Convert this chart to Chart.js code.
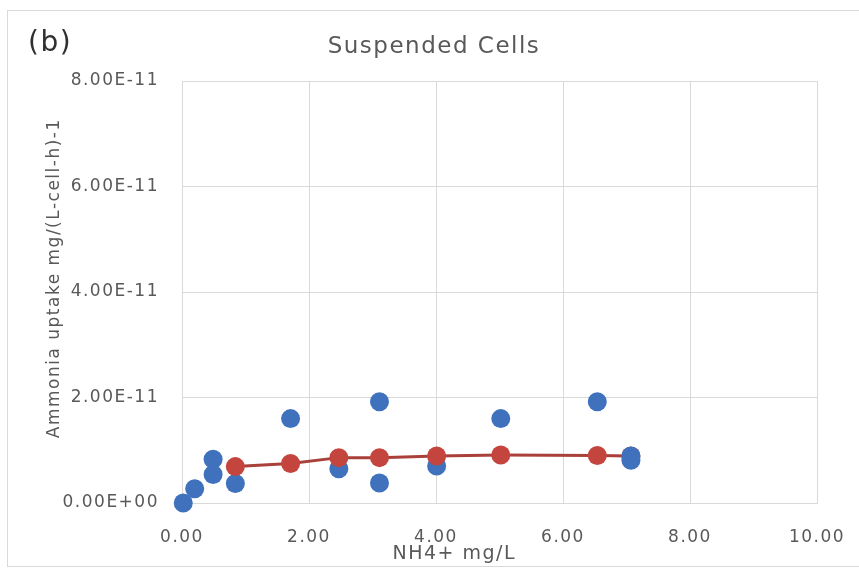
<!DOCTYPE html>
<html>
<head>
<meta charset="utf-8">
<script src="https://cdn.jsdelivr.net/npm/chart.js@4/dist/chart.umd.min.js"></script>
<style>
  html, body { margin: 0; padding: 0; background: #ffffff; }
  canvas { display: block; }
</style>
</head>
<body>
<canvas id="chart" width="859" height="578"></canvas>
<script>
// Measured uptake rates (scatter points)
const uptakeX = [0.02, 0.20, 0.49, 0.49, 0.84, 1.71, 2.47, 3.11, 3.11, 4.01, 5.02, 6.54];
const uptakeY = [0, 2.7e-12, 8.3e-12, 5.4e-12, 3.7e-12, 1.60e-11, 6.5e-12, 1.92e-11, 3.8e-12, 7.0e-12, 1.60e-11, 1.92e-11];

// Last measured pair at the highest concentration
const uptakeFinalX = [7.07, 7.07];
const uptakeFinalY = [8.9e-12, 8.1e-12];

// Fitted uptake curve (line with markers)
const fitX = [0.84, 1.71, 2.47, 3.11, 4.01, 5.02, 6.54, 7.07];
const fitY = [6.9e-12, 7.5e-12, 8.6e-12, 8.6e-12, 8.9e-12, 9.1e-12, 9.0e-12, 8.9e-12];

// Axis ranges and ticks
const xTickValues = [0, 2, 4, 6, 8, 10];
const yTickValues = [0, 2e-11, 4e-11, 6e-11, 8e-11];

const panelLabel = '(b)';
const chartTitle = 'Suspended Cells';
const xAxisTitle = 'NH4+ mg/L';
const yAxisTitle = 'Ammonia uptake mg/(L-cell-h)-1';

const FONT = '"DejaVu Sans", sans-serif';
const TEXT = '#595959';
const GRID = '#D9D9D9';
const BLUE = '#3F71BD';
const RED = '#C4443E';
const RED_LINE = '#A9403A';

const toPoints = (xs, ys) => xs.map((x, i) => ({ x, y: ys[i] }));

// Excel-style scientific notation: 2.00E-11, 0.00E+00
function sci(v) {
  const [m, e] = Number(v).toExponential(2).split('e');
  const sign = e[0];
  const digits = e.slice(1).padStart(2, '0');
  return m + 'E' + sign + digits;
}

const spacing = {
  id: 'spacing',
  beforeUpdate(c) { c.ctx.letterSpacing = '1.5px'; },
  beforeLayout(c) { c.ctx.letterSpacing = '1.5px'; },
  beforeDraw(c) { c.ctx.letterSpacing = '1.5px'; }
};

const decor = {
  id: 'decor',
  beforeDraw(c) {
    const g = c.ctx;
    g.save();
    g.fillStyle = '#ffffff';
    g.fillRect(0, 0, c.width, c.height);
    g.strokeStyle = GRID;
    g.lineWidth = 1;
    g.strokeRect(7.5, 10.5, c.width, 556);
    g.restore();
  },
  afterDraw(c) {
    const g = c.ctx;
    g.save();
    g.font = '28px ' + FONT;
    g.fillStyle = '#303030';
    g.textBaseline = 'middle';
    g.textAlign = 'left';
    g.fillText(panelLabel, 28, 44);
    g.restore();
  }
};

// Outer margins: plot spans x 182..817, title centred near x 434
const PAD_LEFT = 51;
const PAD_RIGHT = 42;

// Axis titles sit off the axis centre: blank padding moves the visible words
const xTitleText = xAxisTitle + ' '.repeat(12);
const yTitleText = ' '.repeat(4) + yAxisTitle;

const config = {
  type: 'scatter',
  data: {
    datasets: [
      {
        label: 'uptakeFinal',
        data: toPoints(uptakeFinalX, uptakeFinalY),
        backgroundColor: BLUE,
        borderColor: BLUE,
        pointRadius: 9.5,
        pointHoverRadius: 9.5,
        borderWidth: 0,
        order: 1,
        clip: false
      },
      {
        label: 'fit',
        data: toPoints(fitX, fitY),
        showLine: true,
        borderColor: RED_LINE,
        borderWidth: 3,
        backgroundColor: RED,
        pointBackgroundColor: RED,
        pointBorderColor: RED,
        pointBorderWidth: 0,
        pointRadius: 9.5,
        pointHoverRadius: 9.5,
        tension: 0,
        order: 2,
        clip: false
      },
      {
        label: 'uptake',
        data: toPoints(uptakeX, uptakeY),
        backgroundColor: BLUE,
        borderColor: BLUE,
        pointRadius: 9.5,
        pointHoverRadius: 9.5,
        borderWidth: 0,
        order: 3,
        clip: false
      }
    ]
  },
  options: {
    responsive: false,
    animation: false,
    events: [],
    layout: { padding: { left: PAD_LEFT, right: PAD_RIGHT, top: 0, bottom: 0 } },
    plugins: {
      legend: { display: false },
      tooltip: { enabled: false },
      title: {
        display: true,
        text: chartTitle,
        color: TEXT,
        font: { family: FONT, size: 23, weight: 'normal' },
        padding: { top: 33, bottom: 20.4 }
      }
    },
    scales: {
      x: {
        type: 'linear',
        min: xTickValues[0],
        max: xTickValues[xTickValues.length - 1],
        afterBuildTicks(s) { s.ticks = xTickValues.map(v => ({ value: v })); },
        afterFit(s) {
          s.height = 75;
          s.paddingLeft = 0;
          s.paddingRight = 0;
        },
        ticks: {
          color: TEXT,
          font: { family: FONT, size: 17 },
          padding: 24,
          maxRotation: 0,
          callback: v => Number(v).toFixed(2)
        },
        grid: { color: GRID, lineWidth: 1, drawTicks: false },
        border: { color: GRID, width: 1 },
        title: {
          display: true,
          text: xTitleText,
          color: TEXT,
          font: { family: FONT, size: 19 },
          padding: { top: 0, bottom: 13 }
        }
      },
      y: {
        type: 'linear',
        min: yTickValues[0],
        max: yTickValues[yTickValues.length - 1],
        afterBuildTicks(s) { s.ticks = yTickValues.map(v => ({ value: v })); },
        afterFit(s) {
          s.width = 182 - PAD_LEFT;
          s.paddingTop = 0;
          s.paddingBottom = 0;
        },
        ticks: {
          color: TEXT,
          font: { family: FONT, size: 17 },
          padding: 23,
          callback: v => sci(v)
        },
        grid: { color: GRID, lineWidth: 1, drawTicks: false },
        border: { color: GRID, width: 1 },
        title: {
          display: true,
          text: yTitleText,
          color: TEXT,
          font: { family: FONT, size: 17 },
          padding: { top: -7, bottom: 0 }
        }
      }
    }
  },
  plugins: [spacing, decor]
};

new Chart(document.getElementById('chart'), config);
</script>
</body>
</html>
